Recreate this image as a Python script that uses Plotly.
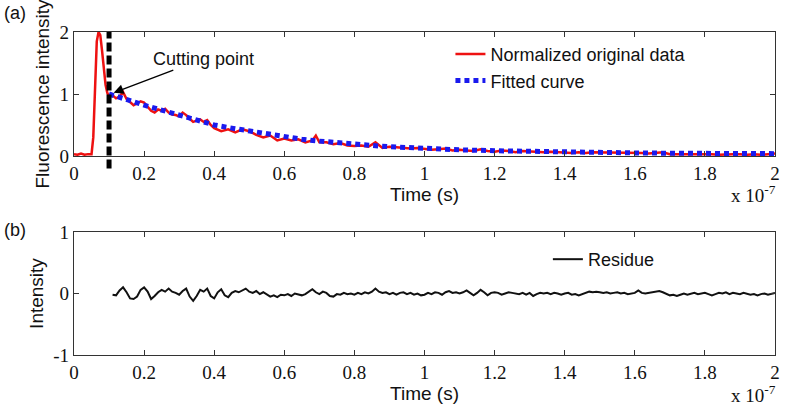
import plotly.graph_objects as go

# ---------------- data (time in units of 1e-7 s) ----------------
orig_time = [0.00, 0.01, 0.02, 0.03, 0.04, 0.05, 0.055, 0.06, 0.065, 0.07,
             0.075, 0.08, 0.085, 0.09, 0.095, 0.10, 0.11, 0.12, 0.13, 0.14,
             0.15, 0.16, 0.17, 0.18, 0.19, 0.20, 0.21, 0.22, 0.23, 0.24,
             0.25, 0.26, 0.27, 0.28, 0.29, 0.30, 0.31, 0.32, 0.33, 0.34,
             0.35, 0.36, 0.37, 0.38, 0.39, 0.40, 0.42, 0.44, 0.46, 0.48,
             0.50, 0.52, 0.54, 0.56, 0.58, 0.60, 0.62, 0.64, 0.66, 0.68,
             0.69, 0.70, 0.72, 0.74, 0.76, 0.78, 0.80, 0.82, 0.84, 0.86,
             0.88, 0.90, 0.92, 0.94, 0.96, 0.98, 1.00, 1.02, 1.04, 1.06,
             1.08, 1.10, 1.12, 1.14, 1.16, 1.18, 1.20, 1.22, 1.24, 1.26,
             1.28, 1.30, 1.32, 1.34, 1.36, 1.38, 1.40, 1.42, 1.44, 1.46,
             1.48, 1.50, 1.52, 1.54, 1.56, 1.58, 1.60, 1.62, 1.64, 1.66,
             1.68, 1.70, 1.72, 1.74, 1.76, 1.78, 1.80, 1.82, 1.84, 1.86,
             1.88, 1.90, 1.92, 1.94, 1.96, 1.98, 2.00]
orig_value = [0.03, 0.02, 0.04, 0.02, 0.03, 0.03, 0.30, 1.20, 1.85, 2.00,
              1.95, 1.70, 1.40, 1.15, 1.02, 0.95, 0.98, 0.93, 0.96, 1.03,
              0.92, 0.87, 0.82, 0.85, 0.88, 0.86, 0.79, 0.73, 0.70, 0.75,
              0.73, 0.76, 0.70, 0.67, 0.66, 0.64, 0.70, 0.66, 0.60, 0.55,
              0.57, 0.59, 0.55, 0.58, 0.50, 0.45, 0.40, 0.43, 0.38, 0.43,
              0.40, 0.34, 0.30, 0.33, 0.25, 0.28, 0.25, 0.27, 0.22, 0.25,
              0.33, 0.22, 0.22, 0.19, 0.21, 0.17, 0.16, 0.17, 0.15, 0.22,
              0.13, 0.15, 0.14, 0.13, 0.12, 0.13, 0.11, 0.10, 0.11, 0.12,
              0.09, 0.10, 0.09, 0.08, 0.11, 0.08, 0.07, 0.09, 0.08, 0.06,
              0.08, 0.07, 0.06, 0.06, 0.07, 0.06, 0.05, 0.05, 0.06, 0.05,
              0.06, 0.06, 0.05, 0.06, 0.05, 0.05, 0.06, 0.05, 0.04, 0.05,
              0.06, 0.03, 0.03, 0.04, 0.03, 0.04, 0.03, 0.03, 0.02, 0.03,
              0.03, 0.03, 0.02, 0.03, 0.02, 0.03, 0.04]

fit_time = [0.10, 0.15, 0.20, 0.25, 0.30, 0.35, 0.40, 0.45, 0.50, 0.55,
            0.60, 0.65, 0.70, 0.75, 0.80, 0.85, 0.90, 0.95, 1.00, 1.10,
            1.20, 1.30, 1.40, 1.50, 1.60, 1.70, 1.80, 1.90, 2.00]
fit_value = [1.00, 0.90, 0.82, 0.74, 0.66, 0.58, 0.50, 0.45, 0.40, 0.35,
             0.31, 0.27, 0.24, 0.21, 0.19, 0.17, 0.15, 0.135, 0.12, 0.10,
             0.085, 0.072, 0.063, 0.056, 0.050, 0.045, 0.042, 0.040, 0.038]

residue_time = [round(0.11 + 0.01 * i, 2) for i in range(190)]
residue_value = [
    -0.02, -0.03, 0.05, 0.10, 0.02, -0.08, -0.09, -0.05, 0.06, 0.10,
    0.03, -0.09, -0.04, 0.02, 0.06, 0.03, 0.08, 0.03, 0.01, -0.02,
    0.04, 0.08, -0.05, -0.12, -0.04, 0.06, 0.03, 0.08, -0.04, -0.08,
    0.02, 0.07, -0.03, -0.06, 0.01, 0.04, 0.02, 0.05, 0.08, 0.03,
    0.01, 0.04, -0.01, 0.02, -0.02, -0.05, -0.03, -0.06, -0.02, -0.03,
    -0.01, -0.04, 0.00, -0.02, -0.03, -0.01, 0.03, 0.07, 0.02, -0.01,
    0.03, 0.01, -0.04, -0.05, -0.01, -0.02, 0.01, -0.01, 0.00, -0.02,
    0.01, -0.01, 0.02, 0.00, 0.03, 0.08, 0.03, 0.01, 0.02, -0.01,
    0.01, -0.02, 0.01, 0.02, -0.01, 0.01, -0.02, 0.00, -0.03, -0.02,
    0.01, -0.01, 0.02, 0.01, -0.02, 0.02, 0.04, 0.01, 0.02, 0.00,
    0.02, 0.05, 0.01, -0.03, 0.01, 0.06, 0.02, -0.03, 0.01, 0.02,
    0.01, -0.02, 0.00, 0.02, 0.01, 0.00, -0.01, 0.01, -0.02, 0.01,
    -0.04, -0.01, 0.01, 0.00, 0.01, -0.01, 0.01, 0.00, -0.02, 0.00,
    0.01, -0.02, -0.01, -0.03, -0.01, 0.02, 0.03, 0.02, 0.03, 0.02,
    0.01, 0.02, 0.00, 0.01, 0.02, 0.00, 0.01, -0.01, 0.00, 0.01,
    0.05, 0.01, 0.00, 0.01, 0.02, 0.03, 0.04, 0.02, 0.00, -0.03,
    -0.02, -0.04, -0.02, 0.00, -0.02, -0.01, 0.01, -0.01, 0.00, 0.01,
    -0.01, -0.03, -0.01, 0.01, 0.00, 0.02, -0.01, 0.01, 0.00, -0.01,
    0.01, 0.00, -0.02, -0.01, -0.03, -0.01, 0.00, -0.02, -0.01, 0.01]

cut_time = 0.10
x_max = 2.0
x_ticks = [0, 0.2, 0.4, 0.6, 0.8, 1, 1.2, 1.4, 1.6, 1.8, 2]
x_ticktext = ["0", "0.2", "0.4", "0.6", "0.8", "1", "1.2", "1.4", "1.6", "1.8", "2"]

# ---------------- figure ----------------
SERIF = "Liberation Serif, Times New Roman, serif"
SANS = "Liberation Sans, Arial, sans-serif"
AX = "#333333"

fig = go.Figure()
fig.add_trace(go.Scatter(x=orig_time, y=orig_value, mode="lines",
                         name="Normalized original data",
                         line=dict(color="#ee1111", width=2.5),
                         xaxis="x", yaxis="y", legend="legend"))
fig.add_trace(go.Scatter(x=fit_time, y=fit_value, mode="lines",
                         name="Fitted curve",
                         line=dict(color="#1a1aee", width=5, dash="5px,4px"),
                         xaxis="x", yaxis="y", legend="legend"))
fig.add_trace(go.Scatter(x=residue_time, y=residue_value, mode="lines",
                         name="Residue",
                         line=dict(color="#111111", width=2),
                         xaxis="x2", yaxis="y2", legend="legend2"))

axis_common = dict(showline=True, linecolor=AX, linewidth=1.2, mirror="ticks",
                   ticks="inside", ticklen=5, tickcolor=AX, tickwidth=1.2,
                   showgrid=False, zeroline=False, ticklabeloverflow="allow",
                   tickfont=dict(family=SERIF, size=19, color="#111"))

fig.update_layout(
    width=787, height=411,
    margin=dict(l=74, r=7, t=32, b=56),
    paper_bgcolor="white", plot_bgcolor="white",
    xaxis=dict(domain=[0, 1], anchor="y", range=[0, x_max],
               tickvals=x_ticks, ticktext=x_ticktext,
               title=dict(text="Time (s)", font=dict(family=SANS, size=19, color="#111"), standoff=0),
               **axis_common),
    yaxis=dict(domain=[0.6161, 1], anchor="x", range=[0, 2],
               tickvals=[0, 1, 2], ticktext=["0", "1", "2"],
               title=dict(text="Fluorescence intensity", font=dict(family=SANS, size=19, color="#111"), standoff=4),
               **axis_common),
    xaxis2=dict(domain=[0, 1], anchor="y2", range=[0, x_max],
                tickvals=x_ticks, ticktext=x_ticktext,
                title=dict(text="Time (s)", font=dict(family=SANS, size=19, color="#111"), standoff=0),
                **axis_common),
    yaxis2=dict(domain=[0, 0.3808], anchor="x2", range=[-1, 1],
                tickvals=[-1, 0, 1], ticktext=["-1", "0", "1"],
                title=dict(text="Intensity", font=dict(family=SANS, size=19, color="#111"), standoff=4),
                **axis_common),
    legend=dict(x=0.537, y=0.988, xanchor="left", yanchor="top",
                bgcolor="rgba(0,0,0,0)", borderwidth=0,
                font=dict(family=SANS, size=18, color="#111"),
                tracegroupgap=0),
    legend2=dict(x=0.676, y=0.353, xanchor="left", yanchor="top",
                 bgcolor="rgba(0,0,0,0)", borderwidth=0,
                 font=dict(family=SANS, size=18, color="#111")),
    showlegend=True,
)

# cutting-point dashed vertical line (extends slightly below the axis)
fig.add_shape(type="line", xref="x domain", yref="y domain",
              x0=cut_time / x_max, x1=cut_time / x_max, y0=-0.1, y1=1.0,
              line=dict(color="black", width=5, dash="9px,4px"), layer="above")

# arrow annotation
fig.add_annotation(x=0.113, y=1.02, xref="x", yref="y",
                   ax=0.37, ay=1.57, axref="x", ayref="y",
                   text="Cutting point", showarrow=True,
                   arrowhead=2, arrowsize=1.4, arrowwidth=1.4, arrowcolor="black",
                   font=dict(family=SANS, size=18, color="#111"))

# panel labels
fig.add_annotation(x=-0.102, y=1.058, xref="paper", yref="paper", xanchor="left",
                   yanchor="middle", text="(a)", showarrow=False,
                   font=dict(family=SANS, size=18, color="#111"))
fig.add_annotation(x=-0.102, y=0.388, xref="paper", yref="paper", xanchor="left",
                   yanchor="middle", text="(b)", showarrow=False,
                   font=dict(family=SANS, size=18, color="#111"))

# exponent labels
for yy in [0.497, -0.122]:
    fig.add_annotation(x=1.0045, y=yy, xref="paper", yref="paper", xanchor="right",
                       yanchor="middle", text="x 10<sup>-7</sup>", showarrow=False,
                       font=dict(family=SERIF, size=19, color="#111"))

fig.write_html("out.html", config={"displayModeBar": False},
               post_script="document.body.style.margin='0px';")
